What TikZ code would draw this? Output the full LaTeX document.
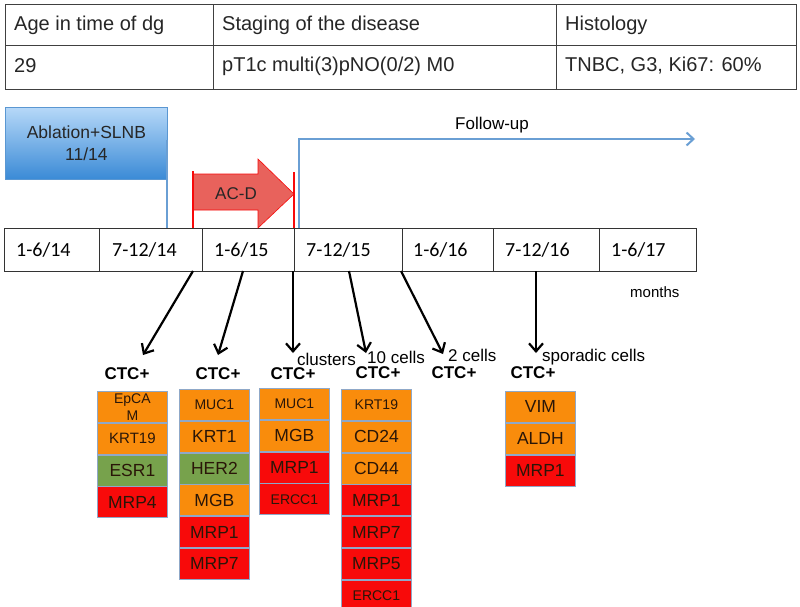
\documentclass[tikz,border=0pt]{standalone}
\usepackage{fontspec}
\setmainfont{Liberation Sans}
\newfontfamily\tlfont{Carlito}
\usetikzlibrary{arrows.meta}
\definecolor{orng}{HTML}{F98C0C}
\definecolor{grn}{HTML}{77A24C}
\definecolor{rd}{HTML}{F80A0A}
\definecolor{bordc}{HTML}{8FA8C8}
\definecolor{txtc}{HTML}{2A1608}
\definecolor{bline}{HTML}{6A9FD4}
\definecolor{btop}{HTML}{B6D8F8}
\definecolor{bbot}{HTML}{3A8AD6}
\definecolor{bbord}{HTML}{5A97D2}
\definecolor{acfill}{HTML}{E8625C}
\definecolor{tabline}{HTML}{404040}
\tikzset{
  mk/.style={draw=bordc, line width=0.8pt, minimum width=70pt, minimum height=31pt,
    inner sep=0pt, font=\fontsize{17.5}{17.5}\selectfont, text=txtc, anchor=north west},
  mks/.style={mk, font=\fontsize{14}{14}\selectfont},
  og/.style={fill=orng}, gr/.style={fill=grn}, re/.style={fill=rd},
  ctc/.style={font=\bfseries\fontsize{17}{17}\selectfont, inner sep=0pt},
  note/.style={font=\fontsize{17}{17}\selectfont, inner sep=0pt, anchor=west},
  tabtxt/.style={font=\fontsize{20}{20}\selectfont, inner sep=0pt, anchor=west, text=black!85},
  tlcell/.style={draw=black!80, line width=1pt, minimum height=43pt, inner sep=0pt, anchor=north west},
  tltxt/.style={font=\tlfont\fontsize{20}{20}\selectfont, inner sep=0pt, anchor=west},
  darr/.style={line width=2.2pt, -{Straight Barb[length=8pt,width=14pt,line width=2.2pt]}},
  bl/.style={draw=bline, line width=2pt},
}
\begin{document}
\begin{tikzpicture}[x=1pt,y=-1pt]
\useasboundingbox (0,0) rectangle (800,606);
\fill[white] (0,0) rectangle (800,606);
% table
\draw[tabline, line width=1pt] (5,4) rectangle (796,89);
\draw[tabline, line width=1pt] (5,45) -- (796,45) (213,4) -- (213,89) (556,4) -- (556,89);
\node[tabtxt] (t11) at (14,25) {Age in time of dg};
\node[tabtxt] (t12) at (222,25) {Staging of the disease};
\node[tabtxt] (t13) at (565,25) {Histology};
\node[tabtxt] (t21) at (14,66) {29};
\node[tabtxt] (t22) at (222,66) {pT1c multi(3)pNO(0/2) M0};
\node[tabtxt] (t23) at (565,66) {TNBC, G3, Ki67: 60\%};
% timeline
\node[tlcell, minimum width=95pt] (m1) at (4,228) {};
\node[tlcell, minimum width=103pt] (m2) at (99,228) {};
\node[tlcell, minimum width=92pt] (m3) at (202,228) {};
\node[tlcell, minimum width=108pt] (m4) at (294,228) {};
\node[tlcell, minimum width=91pt] (m5) at (402,228) {};
\node[tlcell, minimum width=106pt] (m6) at (493,228) {};
\node[tlcell, minimum width=97pt] (m7) at (599,228) {};
\node[tltxt] at ([xshift=12pt]m1.west) {1-6/14};
\node[tltxt] at ([xshift=13pt]m2.west) {7-12/14};
\node[tltxt] at ([xshift=12pt]m3.west) {1-6/15};
\node[tltxt] at ([xshift=12pt]m4.west) {7-12/15};
\node[tltxt] at ([xshift=11pt]m5.west) {1-6/16};
\node[tltxt] at ([xshift=12pt]m6.west) {7-12/16};
\node[tltxt] at ([xshift=12pt]m7.west) {1-6/17};
\node[font=\fontsize{15}{15}\selectfont, inner sep=0pt, anchor=west] (months) at (630,292) {months};
% ablation box
\node[draw=bbord, line width=0.8pt, top color=btop, bottom color=bbot, minimum width=162pt, minimum height=72pt,
  anchor=north west, align=center, font=\fontsize{17.5}{22}\selectfont, text=black!85, inner sep=0pt] (abl) at (5,107) {Ablation+SLNB\\11/14};
\coordinate (ablb) at (167,140);
\coordinate (ablt) at (167,228);
\draw[bl] (ablb) -- (ablt);
% AC-D arrow
\fill[acfill] (193,174) -- (258,174) -- (258,159) -- (294,194) -- (258,228) -- (258,210) -- (193,210) -- cycle;
\draw[rd, line width=0.6pt] (193,174) -- (258,174) -- (258,159) -- (294,194) -- (258,228) -- (258,210) -- (193,210);
\draw[rd, line width=2.5pt] (193,171) -- (193,228);
\draw[rd, line width=2.5pt] (294,172) -- (294,228);
\node[font=\fontsize{17}{17}\selectfont, inner sep=0pt, text=black!85] (acd) at (236,194) {AC-D};
% follow-up
\coordinate (fu0) at (299,228);
\coordinate (fu1) at (299,139);
\coordinate (fu2) at (695,139);
\draw[bl, -{Straight Barb[length=7pt,width=13pt,line width=2pt]}] (fu0) -- (fu1) -- (fu2);
\node[note] (fu) at (455,125) {Follow-up};
% CTC labels
\node[ctc] (ctc1) at (127,374) {CTC+};
\node[ctc] (ctc2) at (218,374) {CTC+};
\node[ctc] (ctc3) at (293,374) {CTC+};
\node[ctc] (ctc4) at (378,373) {CTC+};
\node[ctc] (ctc5) at (454,373) {CTC+};
\node[ctc] (ctc6) at (533,373) {CTC+};
\node[note] (clu) at (297,359) {clusters};
\node[note] (ten) at (367,357) {10 cells};
\node[note] (two) at (448,355) {2 cells};
\node[note] (spo) at (542,357) {sporadic cells};
% arrows
\coordinate (s1) at (193,271); \coordinate (e1) at (143,355);
\coordinate (s2) at (243,271); \coordinate (e2) at (218,355);
\coordinate (s3) at (293,271); \coordinate (e3) at (293,353);
\coordinate (s4) at (349,271); \coordinate (e4) at (366,353);
\coordinate (s5) at (401,271); \coordinate (e5) at (443,354);
\coordinate (s6) at (536,271); \coordinate (e6) at (536,353);
\foreach \i in {1,...,6} \draw[darr] (s\i) -- (e\i);
% column 1
\node[mks, og, align=center, font=\fontsize{14}{17}\selectfont] (a1) at (97,391) {EpCA\\M};
\node[mks, og, font=\fontsize{15}{15}\selectfont] (a2) at (a1.south west) {KRT19};
\node[mk, gr] (a3) at (a2.south west) {ESR1};
\node[mk, re] (a4) at (a3.south west) {MRP4};
% column 2
\node[mks, og] (b1) at (179,389) {MUC1};
\node[mk, og] (b2) at (b1.south west) {KRT1};
\node[mk, gr] (b3) at (b2.south west) {HER2};
\node[mk, og] (b4) at (b3.south west) {MGB};
\node[mk, re] (b5) at (b4.south west) {MRP1};
\node[mk, re] (b6) at (b5.south west) {MRP7};
% column 3
\node[mks, og] (c1) at (259,388) {MUC1};
\node[mk, og] (c2) at (c1.south west) {MGB};
\node[mk, re] (c3) at (c2.south west) {MRP1};
\node[mks, re] (c4) at (c3.south west) {ERCC1};
% column 4
\node[mks, og] (d1) at (341,389) {KRT19};
\node[mk, og] (d2) at (d1.south west) {CD24};
\node[mk, og] (d3) at (d2.south west) {CD44};
\node[mk, re] (d4) at (d3.south west) {MRP1};
\node[mk, re] (d5) at (d4.south west) {MRP7};
\node[mk, re] (d6) at (d5.south west) {MRP5};
\node[mks, re] (d7) at (d6.south west) {ERCC1};
% column 6
\node[mk, og] (f1) at (505,391) {VIM};
\node[mk, og] (f2) at (f1.south west) {ALDH};
\node[mk, re] (f3) at (f2.south west) {MRP1};
\end{tikzpicture}
\end{document}
